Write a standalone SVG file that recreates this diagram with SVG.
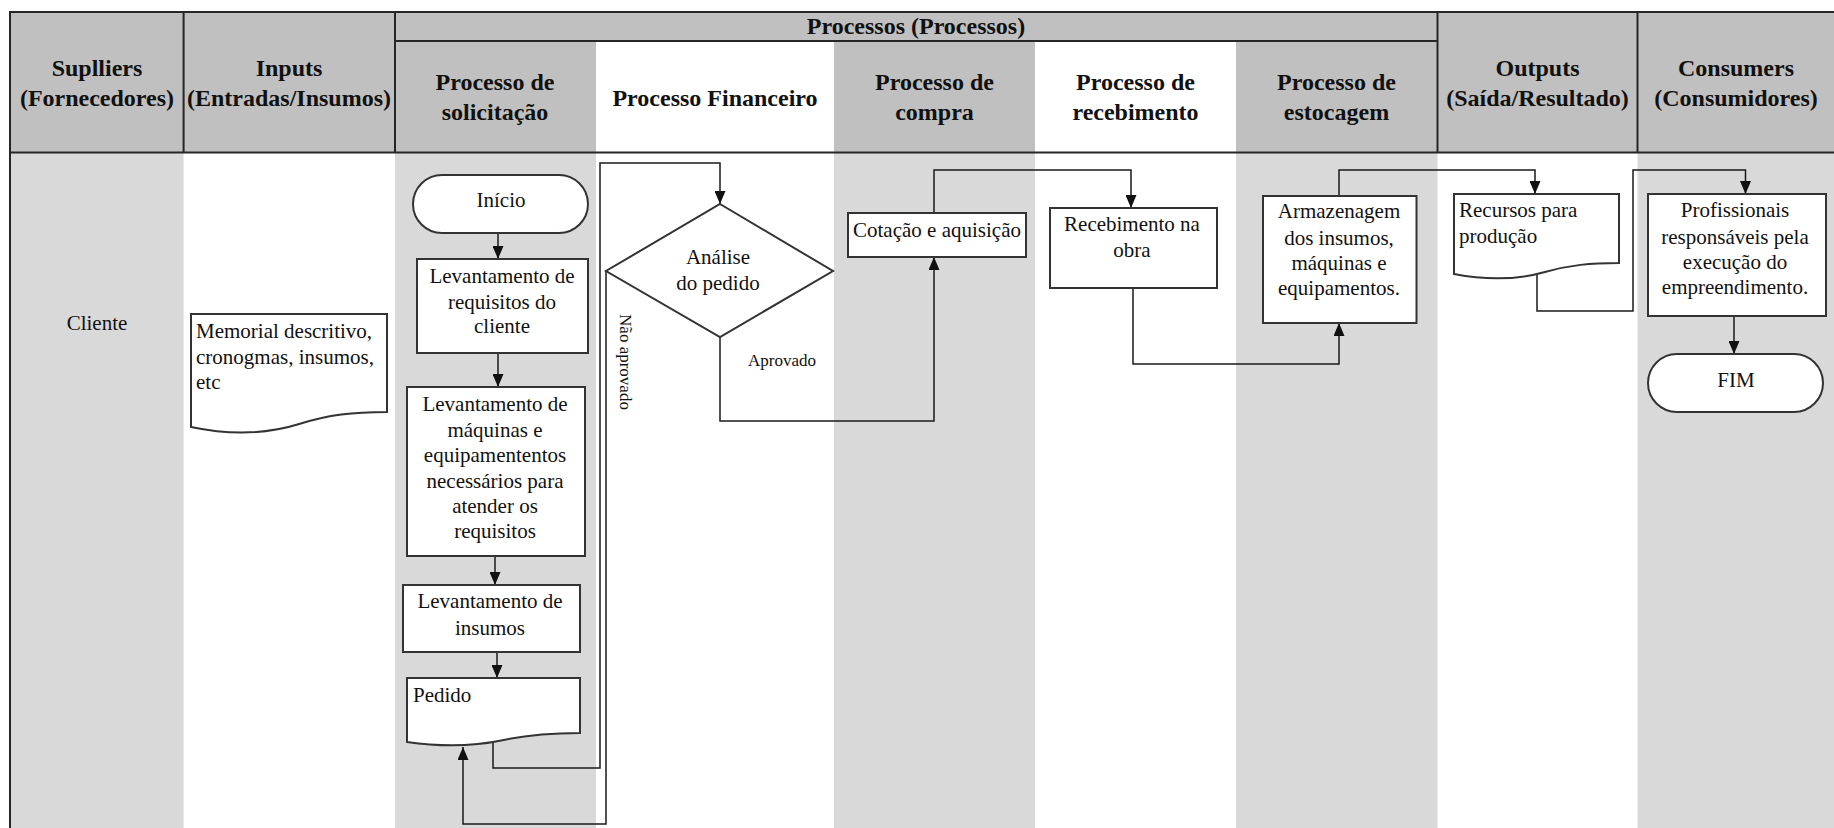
<svg xmlns="http://www.w3.org/2000/svg" width="1834" height="828" viewBox="0 0 1834 828">
  <defs>
    <marker id="arrow" markerUnits="userSpaceOnUse" markerWidth="13" markerHeight="11" refX="13" refY="5.5" orient="auto">
      <path d="M0,0 L13,5.5 L0,11 Z" fill="#111"/>
    </marker>
  </defs>
  <style>
    .hdr{fill:#c0c0c0}
    .lane{fill:#d9d9d9}
    .grid{stroke:#262626;stroke-width:2;fill:none}
    .shape{fill:#fff;stroke:#333;stroke-width:2}
    .conn{fill:none;stroke:#1a1a1a;stroke-width:1.5}
    .h{font-family:"Liberation Serif","Times New Roman",serif;font-weight:bold;font-size:24px;fill:#111;text-anchor:middle}
    .t{font-family:"Liberation Serif","Times New Roman",serif;font-size:21px;fill:#111;text-anchor:middle}
    .tl{font-family:"Liberation Serif","Times New Roman",serif;font-size:21px;fill:#111;text-anchor:start}
    .s{font-family:"Liberation Serif","Times New Roman",serif;font-size:17px;fill:#111;text-anchor:middle}
  </style>

  <!-- background and swimlanes -->
  <rect x="0" y="0" width="1834" height="828" fill="#fff"/>
  <g id="lanes">
    <rect class="lane" x="11" y="152" width="172.6" height="676"/>
    <rect class="lane" x="395" y="152" width="201" height="676"/>
    <rect class="lane" x="834" y="152" width="201" height="676"/>
    <rect class="lane" x="1236" y="152" width="201.5" height="676"/>
    <rect class="lane" x="1637.5" y="152" width="196.5" height="676"/>
  </g>

  <!-- header band -->
  <g id="header">
    <rect class="hdr" x="11" y="12" width="1823" height="140"/>
    <rect x="596" y="41" width="238" height="111" fill="#fff"/>
    <rect x="1035" y="41" width="201" height="111" fill="#fff"/>
    <path class="grid" d="M10,12 H1834 M10,152.5 H1834 M10,11 V828 M183.6,12 V152 M395,12 V152 M1437.5,12 V152 M1637.5,12 V152 M395,41 H1437.5"/>
    <text class="h" x="916" y="33.5">Processos (Processos)</text>
    <text class="h" x="97" y="76">Suplliers</text>
    <text class="h" x="97" y="105.5">(Fornecedores)</text>
    <text class="h" x="289" y="76">Inputs</text>
    <text class="h" x="289" y="105.5">(Entradas/Insumos)</text>
    <text class="h" x="495" y="89.5">Processo de</text>
    <text class="h" x="495" y="119.5">solicitação</text>
    <text class="h" x="715" y="106">Processo Financeiro</text>
    <text class="h" x="934.5" y="89.5">Processo de</text>
    <text class="h" x="934.5" y="119.5">compra</text>
    <text class="h" x="1135.5" y="89.5">Processo de</text>
    <text class="h" x="1135.5" y="119.5">recebimento</text>
    <text class="h" x="1336.5" y="89.5">Processo de</text>
    <text class="h" x="1336.5" y="119.5">estocagem</text>
    <text class="h" x="1537.5" y="76">Outputs</text>
    <text class="h" x="1537.5" y="105.5">(Saída/Resultado)</text>
    <text class="h" x="1736" y="76">Consumers</text>
    <text class="h" x="1736" y="105.5">(Consumidores)</text>
  </g>

  <!-- connectors -->
  <g id="connectors">
    <path class="conn" marker-end="url(#arrow)" d="M498,233 V259"/>
    <path class="conn" marker-end="url(#arrow)" d="M498,353 V387"/>
    <path class="conn" marker-end="url(#arrow)" d="M495,556 V585"/>
    <path class="conn" marker-end="url(#arrow)" d="M497,652 V678"/>
    <path class="conn" marker-end="url(#arrow)" d="M493,742 V768 H600 V163 H720 V204"/>
    <path class="conn" marker-end="url(#arrow)" d="M606,271 V824 H463 V747"/>
    <path class="conn" marker-end="url(#arrow)" d="M720,337 V421 H934 V257"/>
    <path class="conn" marker-end="url(#arrow)" d="M934,213 V170 H1131 V208"/>
    <path class="conn" marker-end="url(#arrow)" d="M1133,288 V364 H1339 V323"/>
    <path class="conn" marker-end="url(#arrow)" d="M1339,196 V170 H1535 V194"/>
    <path class="conn" marker-end="url(#arrow)" d="M1537,275 V311 H1633 V170 H1745.5 V194"/>
    <path class="conn" marker-end="url(#arrow)" d="M1734,316 V354"/>
    <text class="s" x="782" y="366">Aprovado</text>
    <text class="s" font-size="19" transform="translate(626,362) rotate(90)" dy="6">Não aprovado</text>
  </g>

  <!-- supplier -->
  <g id="cliente">
    <text class="t" x="97" y="330">Cliente</text>
  </g>

  <!-- inputs -->
  <g id="memorial">
    <path class="shape" d="M191,314 H387 V412 C352.5,412 328.8,414.7 299.2,424 C269.4,433.3 233.7,436 191,427 Z"/>
    <text class="tl" x="196" y="338">Memorial descritivo,</text>
    <text class="tl" x="196" y="364">cronogmas, insumos,</text>
    <text class="tl" x="196" y="389">etc</text>
  </g>

  <!-- request process -->
  <g id="inicio">
    <rect class="shape" x="413" y="175" width="175" height="58" rx="29" ry="29"/>
    <text class="t" x="501" y="207">Início</text>
  </g>
  <g id="req-cliente">
    <rect class="shape" x="417" y="259" width="171" height="94"/>
    <text class="t" x="502" y="283">Levantamento de</text>
    <text class="t" x="502" y="309">requisitos do</text>
    <text class="t" x="502" y="333">cliente</text>
  </g>
  <g id="req-maquinas">
    <rect class="shape" x="407" y="387" width="178" height="169"/>
    <text class="t" x="495" y="411">Levantamento de</text>
    <text class="t" x="495" y="437">máquinas e</text>
    <text class="t" x="495" y="462">equipamententos</text>
    <text class="t" x="495" y="488">necessários para</text>
    <text class="t" x="495" y="513">atender os</text>
    <text class="t" x="495" y="538">requisitos</text>
  </g>
  <g id="req-insumos">
    <rect class="shape" x="403" y="585" width="177" height="67"/>
    <text class="t" x="490" y="608">Levantamento de</text>
    <text class="t" x="490" y="635">insumos</text>
  </g>
  <g id="pedido">
    <path class="shape" d="M407,678 H580 V733 C549.6,733 528.6,734.6 502.5,740.2 C476.2,745.8 444.7,747.4 407,742 Z"/>
    <text class="tl" x="413" y="702">Pedido</text>
  </g>

  <!-- financial process -->
  <g id="analise">
    <path class="shape" d="M720,204 L833,271 L720,337 L606,271 Z"/>
    <text class="t" x="718" y="264">Análise</text>
    <text class="t" x="718" y="290">do pedido</text>
  </g>

  <!-- purchase process -->
  <g id="cotacao">
    <rect class="shape" x="848" y="213" width="178" height="44"/>
    <text class="t" x="937" y="237">Cotação e aquisição</text>
  </g>

  <!-- receiving process -->
  <g id="recebimento">
    <rect class="shape" x="1050" y="208" width="167" height="80"/>
    <text class="t" x="1132" y="231">Recebimento na</text>
    <text class="t" x="1132" y="257">obra</text>
  </g>

  <!-- storage process -->
  <g id="armazenagem">
    <rect class="shape" x="1263" y="196" width="153.5" height="127"/>
    <text class="t" x="1339" y="218">Armazenagem</text>
    <text class="t" x="1339" y="245">dos insumos,</text>
    <text class="t" x="1339" y="270">máquinas e</text>
    <text class="t" x="1339" y="295">equipamentos.</text>
  </g>

  <!-- outputs -->
  <g id="recursos">
    <path class="shape" d="M1454,194 H1619 V263 C1590,263 1570,265 1545,272 C1520,279 1490,281 1454,274 Z"/>
    <text class="tl" x="1459" y="217">Recursos para</text>
    <text class="tl" x="1459" y="243">produção</text>
  </g>

  <!-- consumers -->
  <g id="profissionais">
    <rect class="shape" x="1648" y="194" width="178" height="122"/>
    <text class="t" x="1735" y="217">Profissionais</text>
    <text class="t" x="1735" y="244">responsáveis pela</text>
    <text class="t" x="1735" y="269">execução do</text>
    <text class="t" x="1735" y="294">empreendimento.</text>
  </g>
  <g id="fim">
    <rect class="shape" x="1648" y="354" width="175" height="58" rx="29" ry="29"/>
    <text class="t" x="1736" y="387">FIM</text>
  </g>
</svg>
